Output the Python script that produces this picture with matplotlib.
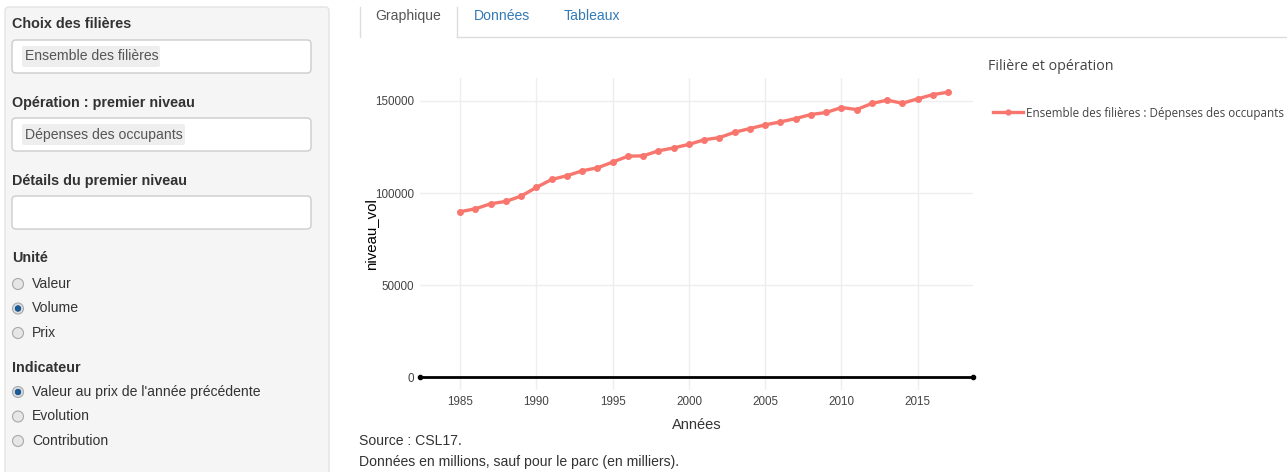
import matplotlib.pyplot as plt
from matplotlib.patches import FancyBboxPatch, Circle, Rectangle
from matplotlib.lines import Line2D

# data
annees = list(range(1985, 2018))
niveau_vol = [89900, 91500, 94200, 95500, 98400, 103100, 107400, 109400, 112100,
              113700, 116800, 120000, 120200, 122900, 124500, 126400, 128900,
              130100, 133000, 135000, 137000, 138600, 140400, 142600, 143700,
              146400, 145300, 148600, 150400, 148700, 151100, 153400, 154700]
x_ticks = [1985, 1990, 1995, 2000, 2005, 2010, 2015]
y_ticks = [0, 50000, 100000, 150000]
x_range = (1982.36, 2018.63)
y_range = (-6780, 162400)

serie_label = "Ensemble des filières : Dépenses des occupants"
legend_title = "Filière et opération"
unites = ["Valeur", "Volume", "Prix"]
unite_choisie = "Volume"
indicateurs = ["Valeur au prix de l'année précédente", "Evolution", "Contribution"]
indicateur_choisi = "Valeur au prix de l'année précédente"
tabs = ["Graphique", "Données", "Tableaux"]

W, H = 1287, 472
UI_FONT = ['Liberation Sans', 'DejaVu Sans']
PLOT_FONT = ['Open Sans', 'DejaVu Sans']
RED = '#F8766D'
BODY = 10.1

fig = plt.figure(figsize=(W / 100, H / 100), dpi=100)
fig.patch.set_facecolor('white')

#===============================================
# page layer (pixel coords, y down)
#===============================================
ui = fig.add_axes([0, 0, 1, 1])
ui.set_xlim(0, W)
ui.set_ylim(H, 0)
ui.axis('off')

# sidebar well
ui.add_patch(FancyBboxPatch((5, 7), 324, 480, boxstyle='round,pad=0,rounding_size=4',
                            fc='#f5f5f5', ec='#e3e3e3', lw=1))


def label(y, txt):
    ui.text(12, y, txt, family=UI_FONT, fontsize=10.4, fontweight='bold',
            color='#333333', va='center', ha='left')


def input_box(y, chip=None, chip_w=0):
    ui.add_patch(FancyBboxPatch((12, y), 299, 33, boxstyle='round,pad=0,rounding_size=4',
                                fc='white', ec='#cccccc', lw=1))
    if chip:
        ui.add_patch(FancyBboxPatch((22, y + 6), chip_w, 21,
                                    boxstyle='round,pad=0,rounding_size=2',
                                    fc='#eeeeee', ec='none'))
        ui.text(25, y + 16.5, chip, family=UI_FONT, fontsize=BODY, color='#555555',
                va='center', ha='left')


def radio(y, txt, selected):
    ui.add_patch(Circle((18, y), 5.5, fc='#e6e6e6' if not selected else '#d6dde6',
                        ec='#a9a9a9', lw=0.8))
    if selected:
        ui.add_patch(Circle((18, y), 2.8, fc='#1b5d9b', ec='#0d3f70', lw=0.5))
    ui.text(32, y, txt, family=UI_FONT, fontsize=BODY, color='#333333',
            va='center', ha='left')


label(24, "Choix des filières")
input_box(40, "Ensemble des filières", 138)
label(103, "Opération : premier niveau")
input_box(118, "Dépenses des occupants", 163)
label(181, "Détails du premier niveau")
input_box(196)

label(258, "Unité")
for i, u in enumerate(unites):
    radio(284 + i * 24.5, u, u == unite_choisie)
label(368, "Indicateur")
for i, ind in enumerate(indicateurs):
    radio(392 + i * 24.5, ind, ind == indicateur_choisi)

# tabs
ui.plot([457, W], [37, 37], color='#dddddd', lw=1)
ui.add_patch(Rectangle((361, 6), 95, 31, fc='white', ec='none'))
ui.plot([360, 360], [7, 37], color='#dddddd', lw=1)
ui.plot([457, 457], [7, 37], color='#dddddd', lw=1)
tab_x = [408, 502, 592]
for tx, t in zip(tab_x, tabs):
    ui.text(tx, 16, t, family=UI_FONT, fontsize=BODY,
            color='#555555' if t == tabs[0] else '#337ab7', ha='center', va='center')

# footnote
ui.text(359, 441, "Source : CSL17.", family=UI_FONT, fontsize=BODY, color='#333333',
        va='center', ha='left')
ui.text(359, 462, "Données en millions, sauf pour le parc (en milliers).", family=UI_FONT,
        fontsize=BODY, color='#333333', va='center', ha='left')

#===============================================
# the chart
#===============================================
left, right, top, bottom = 420, 973, 78, 390
ax = fig.add_axes([left / W, (H - bottom) / H, (right - left) / W, (bottom - top) / H])
ax.set_facecolor('none')
ax.plot(annees, niveau_vol, color=RED, lw=2.4, marker='o', ms=4, zorder=3)
ax.plot(x_range, [0, 0], color='black', lw=2, marker='o', ms=3, clip_on=False, zorder=2)
ax.set_xlim(*x_range)
ax.set_ylim(*y_range)
ax.set_xticks(x_ticks)
ax.set_yticks(y_ticks)
ax.set_xticklabels([str(v) for v in x_ticks])
ax.set_yticklabels([str(v) for v in y_ticks])
ax.grid(True, color='#eeeeee', lw=1)
ax.set_axisbelow(True)
for s in ax.spines.values():
    s.set_visible(False)
ax.tick_params(length=0, labelsize=8.4, labelcolor='#444444', pad=4)
for lab in ax.get_xticklabels() + ax.get_yticklabels():
    lab.set_family(UI_FONT)
ax.set_xlabel("Années", family=UI_FONT, fontsize=10.5, color='#333333')
ax.set_ylabel("niveau_vol", family=UI_FONT, fontsize=10.8, color='black')
ax.xaxis.set_label_coords(0.5, -0.09)
ax.yaxis.set_label_coords(-0.075, 0.5)

# legend
fig.text(988 / W, 1 - 67 / H, legend_title, family=PLOT_FONT, fontsize=10.3,
         color='#444444', va='center', ha='left')
handle = Line2D([], [], color=RED, lw=2.4, marker='o', ms=3.5)
fig.legend([handle], [serie_label], loc='center left',
           bbox_to_anchor=(982 / W, 1 - 113 / H), frameon=False,
           prop={'family': PLOT_FONT, 'size': 8.4}, handlelength=2.6,
           handletextpad=0.3, labelcolor='#444444')

fig.savefig('out.png', dpi=100)
